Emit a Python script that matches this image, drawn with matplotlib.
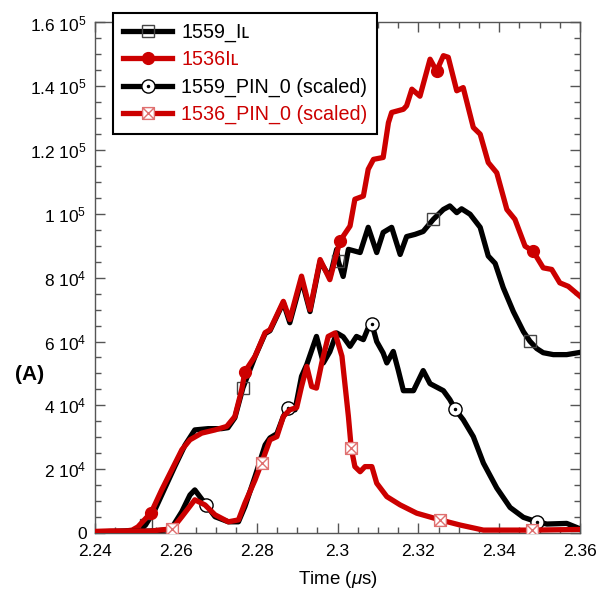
import numpy as np
import matplotlib
matplotlib.use("Agg")
import matplotlib.pyplot as plt
from matplotlib.path import Path
from matplotlib.ticker import MultipleLocator, FixedLocator, FixedFormatter

plt.rcParams['font.family'] = ['Liberation Sans', 'DejaVu Sans']
plt.rcParams['mathtext.fontset'] = 'custom'
plt.rcParams['mathtext.rm'] = 'Liberation Sans'
plt.rcParams['mathtext.it'] = 'Liberation Sans:italic'

# ---------------- data (time in microseconds, current in A) ----------------
t_il_1536 = [2.2400, 2.2437, 2.2474, 2.2492, 2.2506, 2.2539, 2.2565, 2.2590, 2.2615, 2.2635,
             2.2664, 2.2697, 2.2726, 2.2746, 2.2763, 2.2771, 2.2796, 2.2821, 2.2833, 2.2866,
             2.2882, 2.2911, 2.2932, 2.2957, 2.2981, 2.3006, 2.3031, 2.3043, 2.3064, 2.3076,
             2.3089, 2.3113, 2.3126, 2.3134, 2.3163, 2.3171, 2.3184, 2.3204, 2.3229, 2.3245,
             2.3262, 2.3274, 2.3295, 2.3311, 2.3336, 2.3353, 2.3373, 2.3394, 2.3419, 2.3439,
             2.3464, 2.3484, 2.3509, 2.3530, 2.3550, 2.3571, 2.3600]
i_il_1536 = [400, 600, 600, 900, 1900, 6400, 13500, 19800, 26100, 29200,
             31300, 32300, 33400, 36500, 44900, 50600, 55400, 62800, 63700, 72600,
             66900, 80500, 70000, 85700, 79400, 91500, 96200, 104600, 105600, 114000,
             117100, 117700, 128600, 131800, 132800, 133900, 139100, 136900, 148500, 144800,
             149600, 149100, 138600, 139600, 127100, 125000, 116100, 112900, 101400, 98300,
             89900, 88300, 83100, 82600, 78400, 77300, 74200]

t_il_1559 = [2.2400, 2.2474, 2.2511, 2.2525, 2.2548, 2.2573, 2.2598, 2.2623, 2.2647, 2.2680,
             2.2713, 2.2729, 2.2746, 2.2766, 2.2796, 2.2821, 2.2833, 2.2866, 2.2882, 2.2911,
             2.2932, 2.2957, 2.2981, 2.2998, 2.3002, 2.3014, 2.3027, 2.3056, 2.3076, 2.3097,
             2.3113, 2.3134, 2.3155, 2.3171, 2.3192, 2.3212, 2.3237, 2.3262, 2.3278, 2.3295,
             2.3307, 2.3328, 2.3353, 2.3373, 2.3390, 2.3410, 2.3435, 2.3460, 2.3476, 2.3493,
             2.3509, 2.3534, 2.3567, 2.3600]
i_il_1559 = [300, 600, 900, 2500, 7200, 14100, 21000, 27600, 32300, 32700,
             32700, 33000, 36100, 45500, 55300, 62500, 63400, 72200, 65900, 79400,
             69400, 85100, 80100, 88900, 85100, 80400, 88900, 87900, 95800, 87900,
             94200, 95800, 87300, 92900, 93600, 94500, 98300, 101400, 102500, 100400,
             101600, 99900, 95800, 86800, 84500, 76900, 69400, 63100, 60100, 57800,
             56500, 55900, 55900, 56600]

t_pin_1559 = [2.2400, 2.2536, 2.2573, 2.2590, 2.2615, 2.2635, 2.2647, 2.2660, 2.2675, 2.2697,
              2.2730, 2.2755, 2.2771, 2.2796, 2.2821, 2.2833, 2.2850, 2.2866, 2.2878, 2.2895,
              2.2911, 2.2924, 2.2948, 2.2965, 2.2981, 2.2998, 2.3014, 2.3031, 2.3047, 2.3064,
              2.3076, 2.3085, 2.3097, 2.3113, 2.3122, 2.3138, 2.3150, 2.3163, 2.3188, 2.3212,
              2.3229, 2.3262, 2.3278, 2.3291, 2.3311, 2.3336, 2.3361, 2.3394, 2.3427, 2.3460,
              2.3493, 2.3518, 2.3567, 2.3600]
i_pin_1559 = [300, 600, 900, 1600, 6700, 11900, 13500, 11300, 8800, 5100,
              3500, 3500, 8300, 17700, 27600, 29800, 31100, 36500, 39200, 38600,
              49100, 52800, 61600, 53300, 56800, 62700, 61500, 58500, 61600, 60600,
              64300, 65600, 60000, 56400, 53300, 56900, 51200, 44600, 44600, 50900,
              46800, 44600, 41800, 38800, 35500, 30200, 21900, 14100, 8000, 4900,
              3500, 2800, 3000, 1300]

t_pin_1536 = [2.2400, 2.2536, 2.2591, 2.2615, 2.2647, 2.2672, 2.2697, 2.2730, 2.2755, 2.2771,
              2.2796, 2.2812, 2.2833, 2.2850, 2.2866, 2.2882, 2.2899, 2.2911, 2.2924, 2.2936,
              2.2948, 2.2961, 2.2977, 2.2994, 2.3011, 2.3027, 2.3034, 2.3043, 2.3056, 2.3068,
              2.3085, 2.3097, 2.3122, 2.3155, 2.3196, 2.3254, 2.3303, 2.3361, 2.3480, 2.3600]
i_pin_1536 = [500, 600, 1300, 5100, 10400, 8800, 5700, 3500, 4100, 9400,
              16600, 21900, 29200, 30200, 36500, 38600, 39300, 45900, 52200, 45900,
              45400, 53300, 61600, 62700, 55400, 36500, 26600, 20800, 19200, 20800,
              20800, 15600, 11400, 8800, 6200, 4100, 2500, 900, 900, 1100]

# marker times for each series
mk_il_1559 = [2.2525, 2.2766, 2.3002, 2.3237, 2.3476]
mk_il_1536 = [2.2539, 2.2771, 2.3006, 2.3245, 2.3484]
mk_pin_1559 = [2.2675, 2.2878, 2.3085, 2.3291, 2.3493]
mk_pin_1536 = [2.2591, 2.2812, 2.3034, 2.3254, 2.3480]

labels = ['1559_I\u029f', '1536I\u029f', '1559_PIN_0 (scaled)', '1536_PIN_0 (scaled)']
yticks = [0, 20000, 40000, 60000, 80000, 100000, 120000, 140000, 160000]
yticklabels = ['0', r'2 10$^{4}$', r'4 10$^{4}$', r'6 10$^{4}$', r'8 10$^{4}$',
               r'1 10$^{5}$', r'1.2 10$^{5}$', r'1.4 10$^{5}$', r'1.6 10$^{5}$']
xticks = [2.24, 2.26, 2.28, 2.30, 2.32, 2.34, 2.36]
xticklabels = ['2.24', '2.26', '2.28', '2.3', '2.32', '2.34', '2.36']


def idx(t, marks):
    t = np.asarray(t)
    return [int(np.argmin(np.abs(t - m))) for m in marks]


# boxed-X marker
boxx = Path([(-1, -1), (1, -1), (1, 1), (-1, 1), (-1, -1), (-1, -1), (1, 1), (-1, 1), (1, -1)],
            [Path.MOVETO, Path.LINETO, Path.LINETO, Path.LINETO, Path.CLOSEPOLY,
             Path.MOVETO, Path.LINETO, Path.MOVETO, Path.LINETO])

RED = '#cc0000'
fig = plt.figure(figsize=(6.0, 5.92), dpi=100)
ax = fig.add_axes([0.1583, 0.0997, 0.8084, 0.8623])

lw = 3.8
l1, = ax.plot(t_il_1559, i_il_1559, color='black', lw=lw, marker='s', ms=8.5,
              mfc='none', mec='#444444', mew=1.0, markevery=idx(t_il_1559, mk_il_1559), zorder=3)
l2, = ax.plot(t_il_1536, i_il_1536, color=RED, lw=lw, marker='o', ms=8.5,
              mfc=RED, mec=RED, markevery=idx(t_il_1536, mk_il_1536), zorder=4)
l3, = ax.plot(t_pin_1559, i_pin_1559, color='black', lw=lw, marker='o', ms=9.5,
              mfc='white', mec='black', mew=1.0, markevery=idx(t_pin_1559, mk_pin_1559), zorder=5)
d3, = ax.plot(np.asarray(t_pin_1559)[idx(t_pin_1559, mk_pin_1559)],
              np.asarray(i_pin_1559)[idx(t_pin_1559, mk_pin_1559)],
              ls='none', marker='o', ms=1.5, color='black', zorder=6)
l4, = ax.plot(t_pin_1536, i_pin_1536, color=RED, lw=lw, marker=boxx, ms=8.5,
              mfc='white', mec='#e07070', mew=1.0, markevery=idx(t_pin_1536, mk_pin_1536), zorder=6)

ax.set_xlim(2.24, 2.36)
ax.set_ylim(0, 160000)
ax.yaxis.set_major_locator(FixedLocator(yticks))
ax.yaxis.set_major_formatter(FixedFormatter(yticklabels))
ax.yaxis.set_minor_locator(MultipleLocator(5000))
ax.xaxis.set_major_locator(FixedLocator(xticks))
ax.xaxis.set_major_formatter(FixedFormatter(xticklabels))
ax.xaxis.set_minor_locator(MultipleLocator(0.005))

ax.tick_params(which='both', direction='in', top=True, right=True, color='#555555', width=1.0)
ax.tick_params(which='major', length=7, labelsize=12.5, pad=6)
ax.tick_params(axis='x', which='major', pad=8)
ax.tick_params(which='minor', length=4)
for s in ax.spines.values():
    s.set_color('#555555')
    s.set_linewidth(1.0)

ax.set_xlabel('Time ($\\mathit{\\mu}$s)', fontsize=13.5, labelpad=7)
fig.text(0.05, 1 - 375 / 592, '(A)', fontsize=15, fontweight='bold', ha='center', va='center')

leg = ax.legend([l1, l2, (l3, d3), l4], labels, loc='upper left',
                bbox_to_anchor=(113 / 600, 1 - 13 / 592), bbox_transform=fig.transFigure,
                borderaxespad=0, fontsize=14.2, handlelength=2.5, handletextpad=0.45,
                labelspacing=0.42, borderpad=0.5, fancybox=False, framealpha=1,
                edgecolor='black')
leg.get_frame().set_linewidth(1.5)
leg.set_zorder(10)
for txt, c in zip(leg.get_texts(), ['black', RED, 'black', RED]):
    txt.set_color(c)

fig.savefig('out.png', dpi=100)
